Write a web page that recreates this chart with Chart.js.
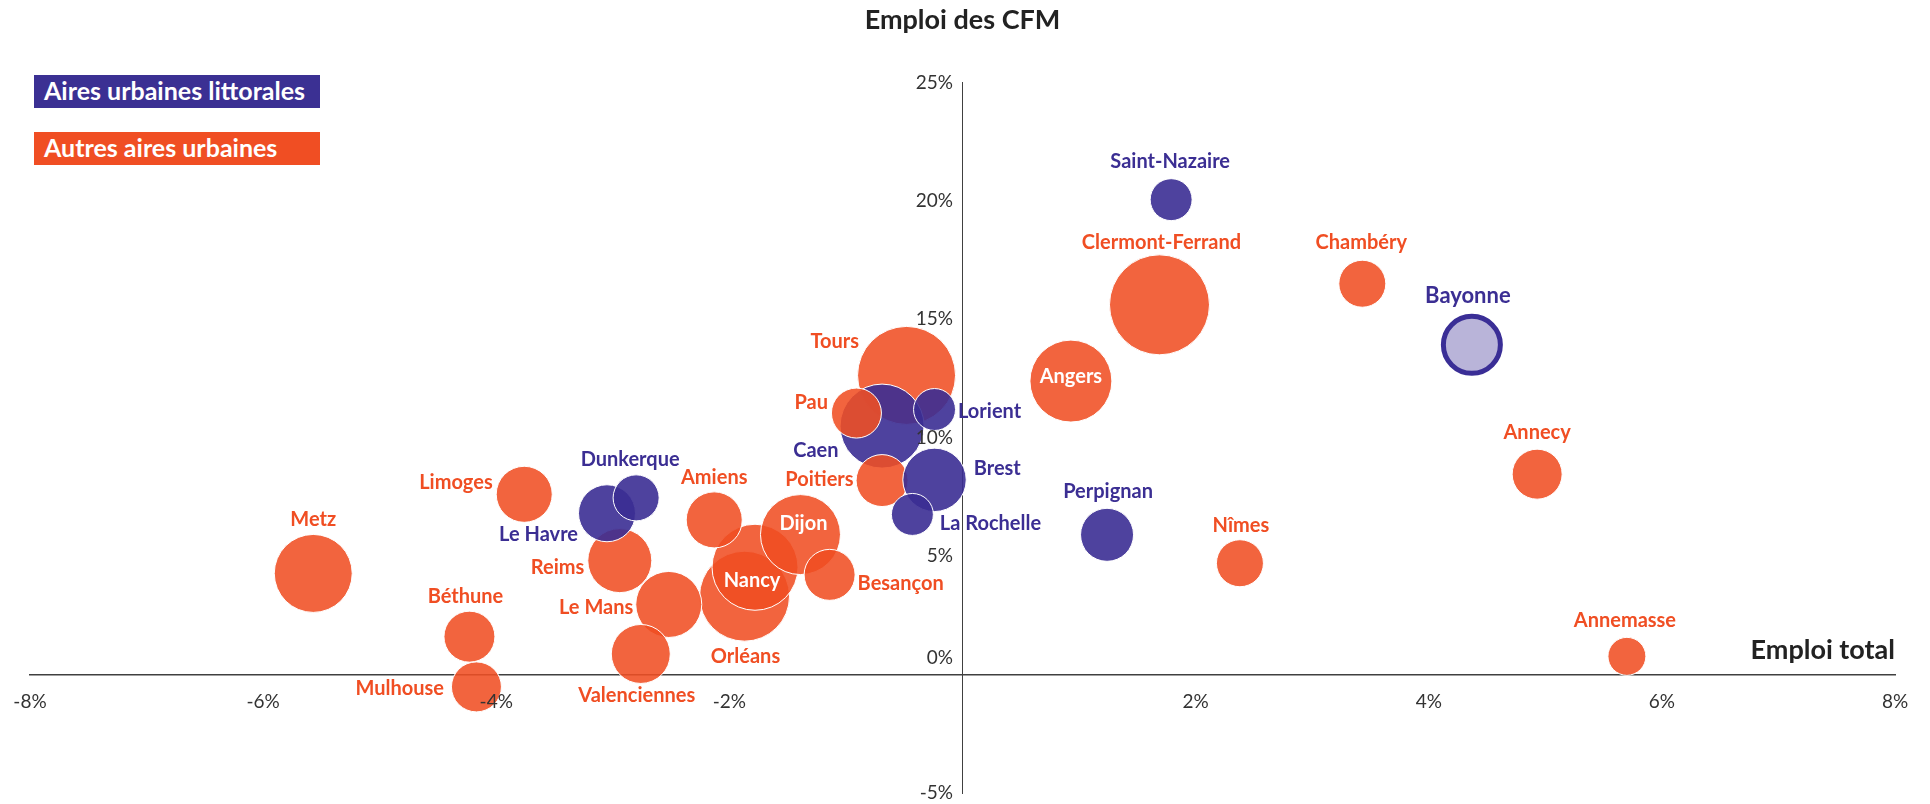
<!DOCTYPE html>
<html lang="fr">
<head>
<meta charset="utf-8">
<title>Emploi des CFM et emploi total</title>
<script src="https://cdn.jsdelivr.net/npm/chart.js@4.4.1/dist/chart.umd.min.js"></script>
<style>
  html, body { margin: 0; padding: 0; background: #fff; }
  #wrap { position: relative; width: 1930px; height: 804px; }
  .cle {
    position: absolute; left: 34px; width: 276px; height: 33px;
    line-height: 33px; padding-left: 10px; color: #fff;
    font: bold 25px Lato, sans-serif;
  }
  .cle.littoral { top: 75px; background: #3b3093; }
  .cle.autre { top: 132px; background: #f04e23; }
</style>
</head>
<body>
<div id="wrap">
  <canvas id="bulles"></canvas>
  <div class="cle littoral">Aires urbaines littorales</div>
  <div class="cle autre">Autres aires urbaines</div>
</div>
<script>
// aires urbaines, dans l'ordre de tracé (les dernières passent devant)
const villes = [
  "Tours", "Caen", "Pau", "Lorient", "Poitiers", "Brest", "La Rochelle",
  "Orléans", "Nancy", "Dijon", "Besançon",
  "Reims", "Le Havre", "Dunkerque", "Le Mans", "Valenciennes",
  "Béthune", "Mulhouse", "Metz", "Limoges", "Amiens",
  "Saint-Nazaire", "Clermont-Ferrand", "Angers", "Chambéry", "Bayonne",
  "Annecy", "Nîmes", "Annemasse", "Perpignan"
];
const littorale = [
  false, true, false, true, false, true, true,
  false, false, false, false,
  false, true, true, false, false,
  false, false, false, false, false,
  true, false, false, false, true,
  false, false, false, true
];
// évolution de l'emploi total (%)
const emploiTotal = [
  -0.48, -0.69, -0.91, -0.24, -0.69, -0.24, -0.43,
  -1.87, -1.78, -1.39, -1.14,
  -2.94, -3.05, -2.80, -2.52, -2.76,
  -4.23, -4.17, -5.57, -3.76, -2.13,
  1.79, 1.69, 0.93, 3.43, 4.37,
  4.93, 2.38, 5.70, 1.24
];
// évolution de l'emploi des CFM (%)
const emploiCFM = [
  12.63, 10.49, 11.04, 11.19, 8.19, 8.22, 6.76,
  3.31, 4.53, 5.91, 4.21,
  4.81, 6.81, 7.46, 2.96, 0.87,
  1.60, -0.52, 4.27, 7.61, 6.53,
  20.05, 15.61, 12.39, 16.50, 13.92,
  8.46, 4.70, 0.77, 5.90
];
// poids relatif de l'aire (aire de la bulle)
const poids = [
  96, 70.6, 25, 17.6, 27, 40.2, 17.6,
  81, 74, 64, 26,
  41, 32.5, 21.2, 43.6, 34.8,
  26, 25, 60.8, 31.4, 31.4,
  17.6, 100, 67.2, 22.1, 32.5,
  25, 22.1, 14.4, 28.1
];
const ticksX = [-8, -6, -4, -2, 0, 2, 4, 6, 8];
const ticksY = [-5, 0, 5, 10, 15, 20, 25];

const BLEU = "#3b2e93";
const ORANGE = "#f04e23";
const FONT = "Lato, 'Open Sans', sans-serif";

// emplacement des étiquettes : [ancrage, décalage x, décalage y]
const etiquettes = {
  "Metz": ["top", 0, 0], "Limoges": ["left", 0, -12], "Béthune": ["top", -4, 0],
  "Mulhouse": ["left", -4, 2], "Le Havre": ["left", 3, 21], "Dunkerque": ["top", -6, -1],
  "Reims": ["left", 0, 7], "Le Mans": ["left", 1, 3], "Valenciennes": ["bottom", -4, -2],
  "Amiens": ["top", 0, 0], "Nancy": ["center", -3, 13], "Orléans": ["bottom", 1, 1],
  "Dijon": ["center", 3, -11], "Besançon": ["right", -1, 9], "Poitiers": ["left", 1, -1],
  "Pau": ["left", 0, -11], "Tours": ["left", 5, -34], "Clermont-Ferrand": ["top", 2, 2],
  "Angers": ["center", 0, -5], "Chambéry": ["top", -1, -3], "Annecy": ["top", 0, -2],
  "Nîmes": ["top", 1, 0], "Annemasse": ["top", -2, -2], "Saint-Nazaire": ["top", -1, -3],
  "Bayonne": ["top", -4, -4], "Lorient": ["right", -1, 2], "Caen": ["left", 2, 24],
  "Brest": ["right", 4, -11], "La Rochelle": ["right", 3, 9], "Perpignan": ["top", 1, -2]
};

const points = villes.map((v, i) => ({
  x: emploiTotal[i],
  y: emploiCFM[i],
  r: 5 * Math.sqrt(poids[i])
}));

// les axes croisés en 0 ne doivent pas réduire la zone de tracé
const axeSansPlace = s => {
  s.paddingLeft = s.paddingRight = s.paddingTop = s.paddingBottom = 0;
  if (s.isHorizontal()) s.height = 0; else s.width = 0;
};

const etiquettesPlugin = {
  id: "etiquettes",
  afterDatasetsDraw(chart) {
    const ctx = chart.ctx;
    const meta = chart.getDatasetMeta(0);
    ctx.save();
    ctx.textBaseline = "middle";
    meta.data.forEach((pt, i) => {
      const nom = villes[i];
      const [ancre, dx, dy] = etiquettes[nom];
      const r = pt.options.radius + pt.options.borderWidth / 2;
      let x = pt.x + dx, y = pt.y + dy;
      ctx.font = "bold " + (nom === "Bayonne" ? 22 : 20) + "px " + FONT;
      ctx.fillStyle = littorale[i] ? BLEU : ORANGE;
      ctx.textAlign = "center";
      if (ancre === "top") y -= r + 14;
      else if (ancre === "bottom") y += r + 14;
      else if (ancre === "left") { x -= r + 3; ctx.textAlign = "right"; }
      else if (ancre === "right") { x += r + 3; ctx.textAlign = "left"; }
      else ctx.fillStyle = "#fff";
      ctx.fillText(nom, x, y);
    });
    // titre de l'axe horizontal, au bout de l'axe
    const sx = chart.scales.x, sy = chart.scales.y;
    ctx.font = "bold 27px " + FONT;
    ctx.fillStyle = "#222";
    ctx.textAlign = "right";
    ctx.textBaseline = "alphabetic";
    ctx.fillText("Emploi total", sx.right, sy.getPixelForValue(0) - 16);
    ctx.restore();
  }
};

new Chart(document.getElementById("bulles"), {
  type: "bubble",
  data: {
    datasets: [{
      data: points,
      backgroundColor: villes.map((v, i) => v === "Bayonne" ? "#b9b4d9" :
        (littorale[i] ? "rgba(59,46,147,0.9)" : "rgba(240,78,35,0.88)")),
      borderColor: villes.map(v => v === "Bayonne" ? "#3a2e96" : "#ffffff"),
      borderWidth: villes.map(v => v === "Bayonne" ? 5 : 1)
    }]
  },
  options: {
    responsive: true,
    maintainAspectRatio: false,
    animation: false,
    events: [],
    layout: { autoPadding: false, padding: { left: 30, right: 35, top: 0, bottom: 11 } },
    plugins: {
      legend: { display: false },
      tooltip: { enabled: false },
      title: {
        display: true,
        text: "Emploi des CFM",
        color: "#222",
        font: { family: FONT, size: 27, weight: "bold" },
        padding: { top: 4, bottom: 46 }
      }
    },
    scales: {
      x: {
        type: "linear",
        min: -8, max: 8,
        position: { y: 0 },
        afterBuildTicks: s => { s.ticks = ticksX.map(v => ({ value: v })); },
        afterFit: axeSansPlace,
        grid: { display: false },
        border: { color: "#404040", width: 1.5 },
        ticks: {
          z: 1,
          padding: 8,
          color: "#333",
          font: { family: FONT, size: 19 },
          callback: v => v === 0 ? "" : v + "%"
        }
      },
      y: {
        type: "linear",
        min: -5, max: 25,
        position: { x: 0 },
        afterBuildTicks: s => { s.ticks = ticksY.map(v => ({ value: v })); },
        afterFit: axeSansPlace,
        grid: { display: false },
        border: { color: "#404040", width: 1 },
        ticks: {
          z: 1,
          padding: 8,
          color: "#333",
          font: c => ({ family: FONT, size: 19, lineHeight: c.tick && c.tick.value === 0 ? 1.8 : 1.2 }),
          callback: v => v === 0 ? ["0%\u2002", ""] : v + "%\u2002"
        }
      }
    }
  },
  plugins: [etiquettesPlugin]
});
</script>
</body>
</html>
